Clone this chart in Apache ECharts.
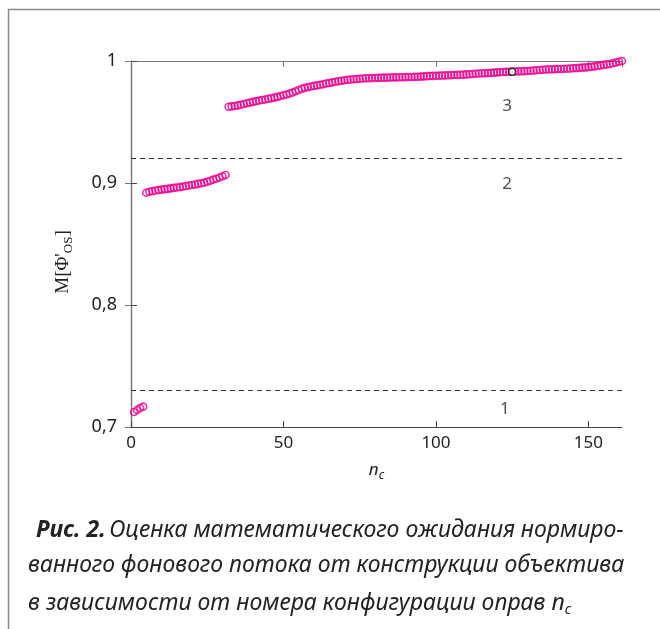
<!DOCTYPE html>
<html>
<head>
<meta charset="utf-8">
<script src="https://cdn.jsdelivr.net/npm/echarts@6/dist/echarts.min.js"></script>
<style>html,body{margin:0;padding:0;background:#fff;}#c{width:660px;height:629px;}</style>
</head>
<body>
<div id="c"></div>
<script>
// ---- data ----
const group1X = [1, 2, 3, 4];
const group1Y = [0.7123, 0.7140, 0.7156, 0.7167];

const group2X = [5,6,7,8,9,10,11,12,13,14,15,16,17,18,19,20,21,22,23,24,25,26,27,28,29,30,31];
const group2Y = [0.8920, 0.8928, 0.8933, 0.8938, 0.8942, 0.8946, 0.8950, 0.8952, 0.8956, 0.8960,
                 0.8963, 0.8966, 0.8970, 0.8975, 0.8980, 0.8984, 0.8988, 0.8993, 0.8998, 0.9003,
                 0.9010, 0.9018, 0.9028, 0.9035, 0.9045, 0.9055, 0.9066];

const group3Start = 32;
const group3Y = [
  0.9625, 0.9628, 0.9631, 0.9636, 0.9641, 0.9648, 0.9654, 0.9660, 0.9665, 0.9671,
  0.9676, 0.9680, 0.9685, 0.9690, 0.9695, 0.9700, 0.9706, 0.9713, 0.9719, 0.9726,
  0.9733, 0.9742, 0.9752, 0.9762, 0.9772, 0.9780, 0.9786, 0.9791, 0.9796, 0.9800,
  0.9805, 0.9810, 0.9815, 0.9820, 0.9825, 0.9830, 0.9834, 0.9838, 0.9842, 0.9845,
  0.9848, 0.9850, 0.9852, 0.9854, 0.9856, 0.9858, 0.9859, 0.9860, 0.9861, 0.9862,
  0.9863, 0.9864, 0.9864, 0.9865, 0.9866, 0.9866, 0.9867, 0.9867, 0.9868, 0.9869,
  0.9869, 0.9870, 0.9871, 0.9872, 0.9874, 0.9876, 0.9877, 0.9878, 0.9879, 0.9880,
  0.9881, 0.9882, 0.9883, 0.9884, 0.9885, 0.9886, 0.9887, 0.9888, 0.9890, 0.9892,
  0.9894, 0.9896, 0.9898, 0.9899, 0.9900, 0.9901, 0.9903, 0.9905, 0.9907, 0.9909,
  0.9910, 0.9911, 0.9912, 0.9913, 0.9914, 0.9915, 0.9916, 0.9917, 0.9918, 0.9920,
  0.9922, 0.9924, 0.9926, 0.9928, 0.9930, 0.9931, 0.9932, 0.9933, 0.9934, 0.9935,
  0.9936, 0.9937, 0.9938, 0.9940, 0.9942, 0.9944, 0.9946, 0.9948, 0.9950, 0.9953,
  0.9956, 0.9960, 0.9964, 0.9968, 0.9972, 0.9976, 0.9982, 0.9988, 0.9994, 1.0000
];

const highlightPoint = [125, 0.9912];
const dashLevels = [0.918, 0.731];
const regionLabels = ['1', '2', '3'];
const regionLabelX = [122.6, 123.3, 123.3];
const regionLabelY = [0.7148, 0.8992, 0.9631];

const xTicks = [0, 50, 100, 150];
const yTickLabels = {'0.7': '0,7', '0.8': '0,8', '0.9': '0,9', '1': '1'};

// ---- build ----
const magenta = '#ec008c';
const allData = [];
group1X.forEach((x, i) => allData.push([x, group1Y[i]]));
group2X.forEach((x, i) => allData.push([x, group2Y[i]]));
group3Y.forEach((y, i) => allData.push([group3Start + i, y]));

const labelData = regionLabels.map((t, i) => ({value: [regionLabelX[i], regionLabelY[i]], name: t}));

const axisColor = '#444';
const capFont = 'Noto Sans';
const chart = echarts.init(document.getElementById('c'), null, {renderer: 'canvas'});
chart.setOption({
  animation: false,
  backgroundColor: '#fff',
  grid: {left: 131, top: 61, right: 38, bottom: 202, containLabel: false},
  xAxis: [{
    type: 'value', min: 0, max: 161, interval: 50, position: 'bottom',
    axisLine: {show: true, lineStyle: {color: axisColor, width: 1.2}},
    axisTick: {show: true, inside: true, length: 6, lineStyle: {color: axisColor}},
    splitLine: {show: false},
    axisLabel: {
      margin: 8, color: '#222', fontSize: 17, fontFamily: 'Noto Sans',
      showMaxLabel: false,
      formatter: v => (xTicks.indexOf(v) >= 0 ? String(v) : '')
    },
    name: '{i|n}{s|c}', nameLocation: 'middle', nameGap: 31,
    nameTextStyle: {
      rich: {
        i: {fontSize: 17, fontStyle: 'italic', fontFamily: 'Noto Sans', color: '#222'},
        s: {fontSize: 12, fontStyle: 'italic', fontFamily: 'Noto Sans', color: '#222', verticalAlign: 'bottom', padding: [12, 0, 0, 0]}
      }
    }
  }, {
    type: 'value', min: 0, max: 161, interval: 50, position: 'top',
    axisLine: {show: true, lineStyle: {color: '#777', width: 1.2}},
    axisTick: {show: true, inside: true, length: 6, lineStyle: {color: '#777'}},
    axisLabel: {show: false}, splitLine: {show: false}
  }],
  yAxis: [{
    type: 'value', min: 0.7, max: 1, interval: 0.1, position: 'left',
    axisLine: {show: true, lineStyle: {color: axisColor, width: 1.2}},
    axisTick: {show: true, inside: true, length: 6, lineStyle: {color: axisColor}},
    splitLine: {show: false},
    axisLabel: {
      margin: 14, color: '#222', fontSize: 18, fontFamily: 'Noto Sans',
      formatter: v => yTickLabels[String(+v.toFixed(1))] || ''
    },
    name: "M[Φ'{s|OS}]", nameLocation: 'middle', nameGap: 56, nameRotate: 90,
    nameTextStyle: {
      fontSize: 19, fontFamily: 'Liberation Serif', color: '#222',
      padding: [0, 36, 0, 0],
      rich: {
        s: {fontSize: 13, fontFamily: 'Liberation Serif', color: '#222', padding: [10, 0, 0, 0]}
      }
    }
  }, {
    type: 'value', min: 0.7, max: 1, interval: 0.1, position: 'right',
    axisLine: {show: true, lineStyle: {color: '#777', width: 1.2}},
    axisTick: {show: true, inside: true, length: 6, lineStyle: {color: '#777'}},
    axisLabel: {show: false}, splitLine: {show: false}
  }],
  series: [{
    type: 'scatter', data: allData, symbol: 'circle', symbolSize: 7,
    itemStyle: {color: 'rgba(0,0,0,0)', borderColor: magenta, borderWidth: 1.6},
    markLine: {
      silent: true, symbol: ['none', 'none'], label: {show: false},
      lineStyle: {color: '#333', type: [5, 4], width: 1},
      data: dashLevels.map(v => ({yAxis: v}))
    },
    z: 3
  }, {
    type: 'scatter', data: [highlightPoint], symbol: 'circle', symbolSize: 7,
    itemStyle: {color: '#fff', borderColor: '#111', borderWidth: 1.6}, z: 4
  }, {
    type: 'scatter', data: labelData, symbolSize: 0,
    label: {show: true, position: 'inside', formatter: p => p.name, color: '#222', fontSize: 17, fontFamily: 'Noto Sans'},
    z: 5
  }],
  graphic: [{
    type: 'polyline', shape: {points: [[8.5, 640], [8.5, 9.5], [670, 9.5]]},
    style: {stroke: '#8a8a8a', lineWidth: 1.5, fill: null}, silent: true
  }, {
    type: 'text', x: 36, y: 519, scaleX: 1.0,
    style: {
      text: '{b|Рис. 2.} {t|Оценка математического ожидания нормиро-}',
      rich: {
        b: {fontSize: 23, fontWeight: 'bold', fontStyle: 'italic', fontFamily: capFont, fill: '#222'},
        t: {fontSize: 23, fontStyle: 'italic', fontFamily: capFont, fill: '#222'}
      }
    }
  }, {
    type: 'text', x: 28, y: 554, scaleX: 1.0,
    style: {text: 'ванного фонового потока от конструкции объектива', font: 'italic 23px "Noto Sans"', fill: '#222'}
  }, {
    type: 'text', x: 28, y: 589, scaleX: 1.0,
    style: {
      text: '{t|в зависимости от номера конфигурации оправ n}{s|c}',
      rich: {
        t: {fontSize: 23, fontStyle: 'italic', fontFamily: capFont, fill: '#222'},
        s: {fontSize: 14, fontStyle: 'italic', fontFamily: capFont, fill: '#222', padding: [14, 0, 0, 0]}
      }
    }
  }]
});
</script>
</body>
</html>
